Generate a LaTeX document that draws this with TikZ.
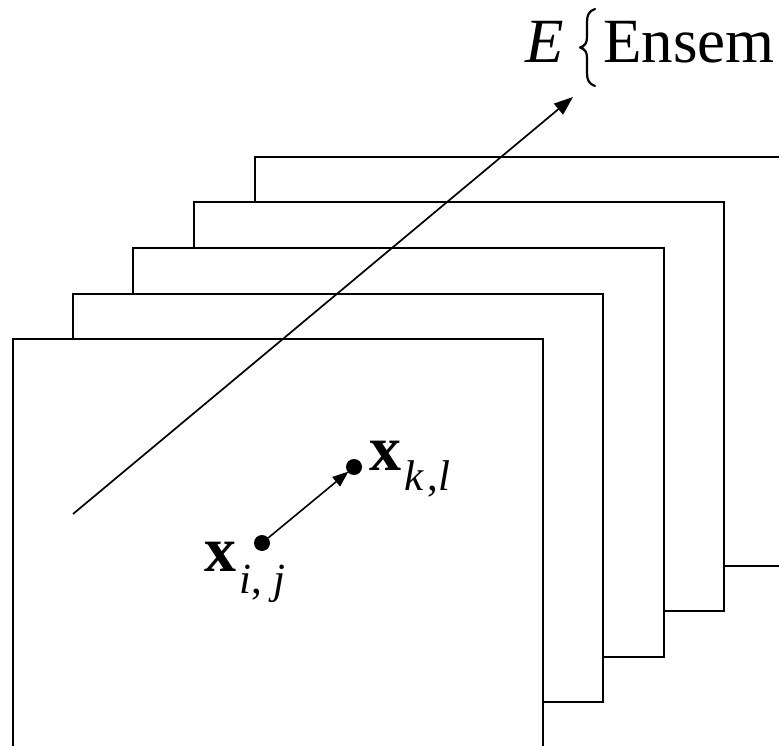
\documentclass[tikz,border=0pt]{standalone}
\usepackage{fontspec}
\setmainfont{Liberation Serif}
\usetikzlibrary{arrows.meta}
\begin{document}
\begin{tikzpicture}[x=1pt,y=-1pt,
  frame/.style={draw=black,fill=white,line width=1.8pt},
  dot/.style={circle,fill=black,inner sep=0pt,minimum size=16pt},
  conn/.style={line width=1.7pt,-{Triangle[length=19pt,width=14pt]}},
  smallconn/.style={line width=1.6pt,shorten >=-1pt,-{Triangle[length=16pt,width=12pt]}},
  bigtxt/.style={inner sep=0pt,font=\fontsize{63}{70}\selectfont},
  lbl/.style={inner sep=0pt,font=\fontsize{64}{70}\selectfont\bfseries},
  subtxt/.style={inner sep=0pt,font=\fontsize{43}{47}\selectfont},
  bracestroke/.style={line width=2.2pt,line cap=round,line join=round}]
\useasboundingbox (0,0) rectangle (779,746);
\clip (0,0) rectangle (779,746);
% stacked frames, back to front
\draw[frame] (255,157) rectangle (786,566);
\draw[frame] (194,202) rectangle (724,611);
\draw[frame] (133,248) rectangle (664,657);
\draw[frame] (73,294) rectangle (603,702);
\draw[frame] (13,339) rectangle (543,750);
% ensemble arrow
\coordinate (s) at (73,514);
\coordinate (t) at (573,97);
\draw[conn] (s) -- (t);
% title
\node[bigtxt,anchor=base west] (E) at (525,63) {\itshape E};
\draw[bracestroke] (595,9) .. controls (589,11) and (587,15) .. (587,22) -- (587,37)
  .. controls (587,43) and (585,46) .. (580,47.5)
  .. controls (585,49) and (587,52) .. (587,58) -- (587,73)
  .. controls (587,80) and (589,84) .. (595,86);
\node[bigtxt,anchor=base west] (ens) at (603,63) {Ensem};
% points
\node[dot] (d1) at (262,543) {};
\node[dot] (d2) at (354,467) {};
\draw[smallconn] (d1) -- (d2);
% labels
\node[lbl,anchor=base west] (xij) at (204,571) {x};
\node[subtxt,anchor=base west] (ij) at ([xshift=3pt,yshift=-22pt]xij.base east) {\textit{i}, \textit{j}};
\node[lbl,anchor=base west] (xkl) at (369,470) {x};
\node[subtxt,anchor=base west] (kl) at ([xshift=3pt,yshift=-20pt]xkl.base east) {\textit{k}\kern3pt,\textit{l}};
\end{tikzpicture}
\end{document}
